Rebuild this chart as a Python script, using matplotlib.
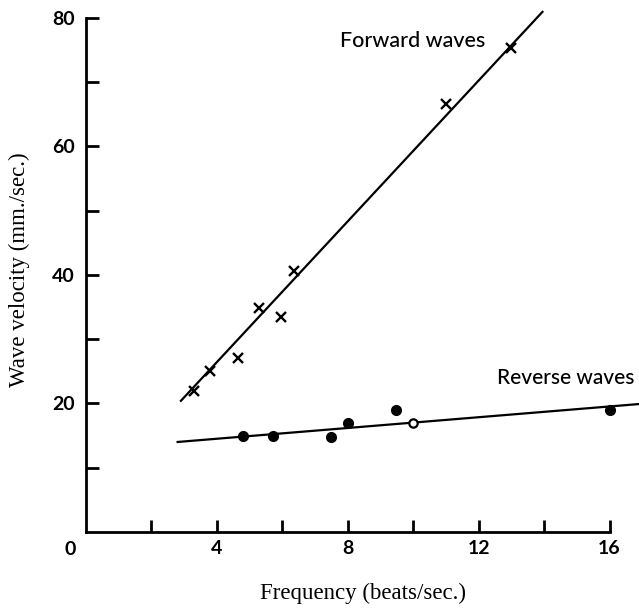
import numpy as np
import matplotlib.pyplot as plt
from matplotlib.transforms import blended_transform_factory

# Forward waves (crosses) and fitted line
fwd_freq = [3.3, 3.8, 4.65, 5.3, 5.95, 6.35, 11.0, 13.0]
fwd_vel = [22.0, 25.0, 27.0, 34.8, 33.5, 40.6, 66.5, 75.3]
fwd_line_x = [2.9, 13.95]
fwd_line_y = [20.4, 80.9]

# Reverse waves (dots) and fitted line
rev_freq = [4.8, 5.72, 7.48, 8.0, 9.48, 16.0]
rev_vel = [15.0, 15.0, 14.8, 17.0, 18.9, 19.0]
rev_open_freq = [10.0]
rev_open_vel = [17.0]
rev_line_x = [2.8, 16.9]
rev_line_y = [14.0, 19.9]

x_ticks = [2, 4, 6, 8, 10, 12, 14, 16]
x_labels = ['', '4', '', '8', '', '12', '', '16']
y_ticks = [10, 20, 30, 40, 50, 60, 70, 80]
y_labels = ['', '20', '', '40', '', '60', '', '80']

sans = 'Lato'
serif = 'Liberation Serif'

fig = plt.figure(figsize=(6.39, 6.10), dpi=100)
ax = fig.add_axes([0.1346, 0.1279, 0.8654, 0.859])

ax.plot(fwd_line_x, fwd_line_y, color='black', lw=1.6, clip_on=False)
ax.plot(rev_line_x, rev_line_y, color='black', lw=1.6, clip_on=False)
ax.plot(fwd_freq, fwd_vel, 'x', color='black', ms=6.5, mew=1.7)
ax.plot(rev_freq, rev_vel, 'o', color='black', ms=7)
ax.plot(rev_open_freq, rev_open_vel, 'o', color='black', mfc='white', ms=6, mew=1.6)

ax.text(7.75, 76.4, 'Forward waves', fontsize=15.5, family=sans, fontweight='medium',
        va='center', ha='left')
ax.text(12.55, 24.0, 'Reverse waves', fontsize=15, family=sans, fontweight='medium',
        va='center', ha='left')

ax.set_xlim(0, 16.9)
ax.set_ylim(0, 81.5)

for s in ['top', 'right']:
    ax.spines[s].set_visible(False)
ax.spines['left'].set_bounds(0, 80)
ax.spines['bottom'].set_bounds(0, 16)
ax.spines['left'].set_linewidth(2)
ax.spines['bottom'].set_linewidth(2)

ax.set_xticks(x_ticks)
ax.set_xticklabels(x_labels, fontsize=14, family=sans, fontweight='bold')
ax.set_yticks(y_ticks)
ax.set_yticklabels(y_labels, fontsize=14, family=sans, fontweight='bold')
ax.tick_params(direction='in', length=9, width=2)
ax.tick_params(axis='x', pad=6)
ax.tick_params(axis='y', pad=8)

# origin label sits left of the corner
trans = blended_transform_factory(ax.transData, ax.transAxes)
ax.text(-0.49, -0.034, '0', transform=trans, fontsize=14, family=sans,
        fontweight='bold', ha='center', va='center')

ax.set_xlabel('Frequency (beats/sec.)', fontsize=16.5, family=serif, labelpad=18)
ax.set_ylabel('Wave velocity (mm./sec.)', fontsize=16.5, family=serif, labelpad=16)

fig.savefig('out.png', dpi=100)
